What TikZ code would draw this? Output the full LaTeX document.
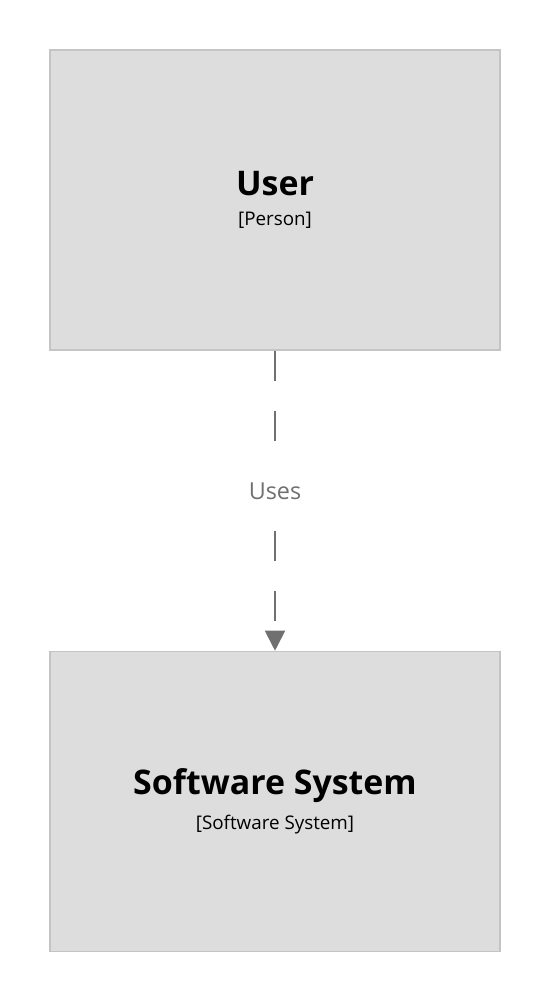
\documentclass[tikz,border=0pt]{standalone}
\usepackage{fontspec}
\setmainfont{Open Sans}
\usetikzlibrary{arrows.meta, positioning}
\definecolor{BoxGray}{HTML}{DDDDDD}
\definecolor{EdgeGray}{HTML}{C4C4C4}
\definecolor{LinkGray}{HTML}{707070}

\begin{document}
\begin{tikzpicture}[node distance=6cm, every node/.style={font=\small}]
    \useasboundingbox (0,0) rectangle (11,-20);
    \node[draw=EdgeGray, line width=0.8pt, rectangle, fill=BoxGray, minimum width=9cm, minimum height=6cm, align=center] (user) at (5.5,-4)
        {{\fontsize{19.3}{20}\selectfont\bfseries User}\\[6.5pt]{\fontsize{10.7}{12}\selectfont [Person]}};
    \node[draw=EdgeGray, line width=0.8pt, rectangle, fill=BoxGray, minimum width=9cm, minimum height=6cm, align=center, below=6cm of user] (system)
        {{\fontsize{19.3}{20}\selectfont\bfseries Software System}\\[6.5pt]{\fontsize{10.7}{12}\selectfont [Software System]}};

    \draw[LinkGray, line width=1.1pt, dash pattern=on 0.6cm off 0.6cm, -{Triangle[width=0.4cm, length=0.4cm]}] (user.south) -- (system.north)
        node[pos=0.467, fill=white, minimum height=1.2cm, text=LinkGray, font=\fontsize{13.3}{15}\selectfont] (uses) {Uses};
\end{tikzpicture}
\end{document}
